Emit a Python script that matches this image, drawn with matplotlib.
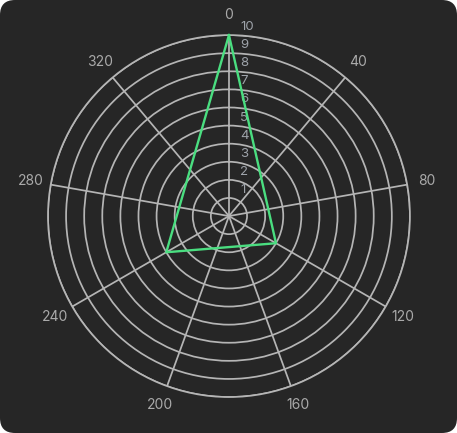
import numpy as np
import matplotlib.pyplot as plt
from matplotlib.patches import FancyBboxPatch
from matplotlib import transforms

# data
angles = [0, 120, 240]
values = [10, 3, 4]
angle_ticks = [0, 40, 80, 120, 160, 200, 240, 280, 320]
r_ticks = [1, 2, 3, 4, 5, 6, 7, 8, 9, 10]

plt.rcParams['font.family'] = ['Inter', 'DejaVu Sans']

fig = plt.figure(figsize=(4.57, 4.33), dpi=100)
fig.patch.set_facecolor('white')
bg = FancyBboxPatch((0, 0), 4.57, 4.33, boxstyle='round,pad=0,rounding_size=0.15',
                    transform=fig.dpi_scale_trans, fc='#262626', ec='none', zorder=-10)
fig.add_artist(bg)

ax = fig.add_axes([0.105, 0.083, 0.792, 0.836], projection='polar')
ax.set_facecolor('none')
ax.set_theta_zero_location('N')
ax.set_theta_direction(-1)

grid_col = '#b5b5b5'
theta = np.deg2rad(angles + [angles[0]])
ax.plot(theta, values + [values[0]], color='#4ade80', lw=1.7, clip_on=False, zorder=5)

ax.set_ylim(0, 10)
ax.set_yticks(r_ticks)
ax.set_yticklabels([])
ax.set_xticks(np.deg2rad(angle_ticks))
ax.set_xticklabels([])
ax.tick_params(length=0)
ax.grid(color=grid_col, lw=1.25)
ax.spines['polar'].set_color(grid_col)
ax.spines['polar'].set_linewidth(1.25)

for a in angle_ticks:
    ax.text(np.deg2rad(a), 11.1, str(a), color='#aaaaaa', fontsize=10,
            ha='center', va='center', clip_on=False)

off = transforms.offset_copy(ax.transData, fig=fig, x=11, y=8, units='dots')
for r in r_ticks:
    ax.text(0, r, str(r), color='#9ea3aa', fontsize=9.5, ha='left', va='center',
            transform=off, clip_on=False)

fig.savefig('out.png', dpi=100, facecolor=fig.get_facecolor())
